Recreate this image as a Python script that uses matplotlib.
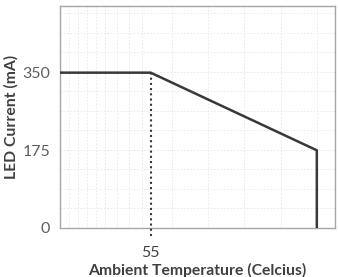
import matplotlib.pyplot as plt

# derating curve: LED current vs ambient temperature
temps = [25, 55, 110, 110]
current = [350, 350, 175, 0]
knee_temp = 55
knee_current = 350
yticks = [0, 175, 350]
xticks = [55]

plt.rcParams['font.family'] = ['Lato', 'DejaVu Sans']

fig = plt.figure(figsize=(3.38, 2.77), dpi=100)
ax = fig.add_axes([0.1775, 0.177, 0.8135, 0.801])

# faint background grid
for y in range(0, 500, 44):
    ax.axhline(y, color="#e6e6e6", lw=0.6, ls=(0, (2, 2)), zorder=0)
for x in [28, 31, 34, 37, 40, 44, 48, 52, 62, 74, 86, 98, 110]:
    ax.axvline(x, color="#e6e6e6", lw=0.6, ls=(0, (2, 2)), zorder=0)

ax.plot(temps, current, color="#383838", lw=1.8, zorder=3)
ax.plot([knee_temp, knee_temp], [-18, knee_current], color="#383838",
        lw=1.5, ls=(0, (1, 1.5)), clip_on=False, zorder=3)

ax.set_xlim(25, 116)
ax.set_ylim(0, 500)
ax.set_yticks(yticks)
ax.set_xticks(xticks)
ax.tick_params(length=0, labelsize=11.5, labelcolor="#5e5e5e", pad=7)
ax.tick_params(axis="x", pad=13, labelcolor="#404040")
for s in ax.spines.values():
    s.set_color("#a6a6a6")
    s.set_linewidth(1.0)

ax.set_xlabel("Ambient Temperature (Celcius)", fontsize=11.3, fontweight="bold",
              color="#404040", labelpad=2)
ax.set_ylabel("LED Current (mA)", fontsize=11.3, fontweight="bold",
              color="#404040", labelpad=3)

plt.savefig("out.png", dpi=100)
